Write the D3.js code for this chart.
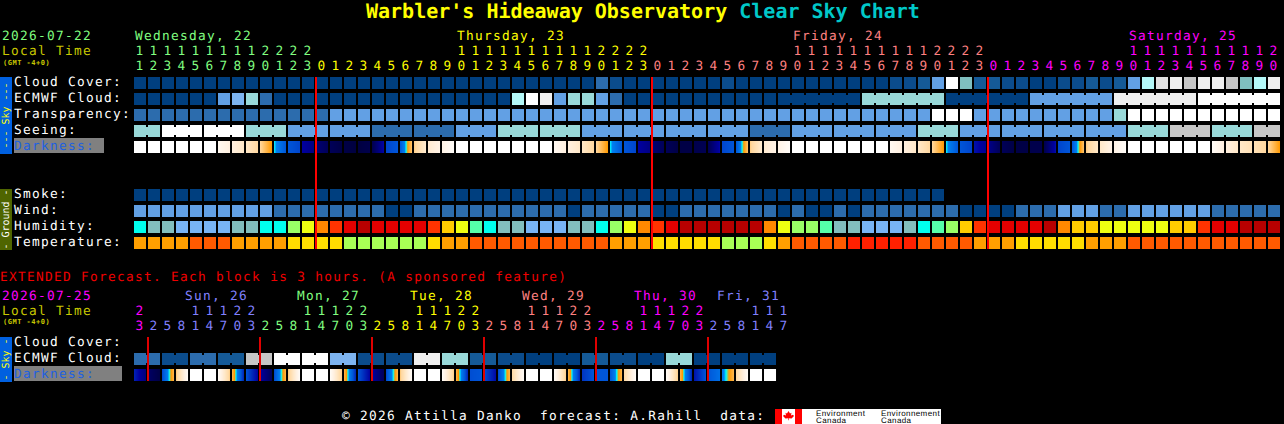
<!DOCTYPE html>
<html><head><meta charset="utf-8">
<script src="https://cdn.jsdelivr.net/npm/d3@7"></script>
<style>
html,body{margin:0;padding:0;background:#000;overflow:hidden}
svg{display:block}
text{font-family:"DejaVu Sans Mono",monospace;font-size:12.8px;letter-spacing:1.3px;white-space:pre;text-rendering:geometricPrecision}
</style></head><body>
<div id="chart"></div>
<script>
// ---------- data ----------
const hourLabels = [11,12,13,14,15,16,17,18,19,20,21,22,23,0,1,2,3,4,5,6,7,8,9,10,11,12,13,14,15,16,17,18,19,20,21,22,23,0,1,2,3,4,5,6,7,8,9,10,11,12,13,14,15,16,17,18,19,20,21,22,23,0,1,2,3,4,5,6,7,8,9,10,11,12,13,14,15,16,17,18,19,20];
const dayHeads = [["Wednesday, 22",0,"#80ff80"],["Thursday, 23",23,"#ffff00"],["Friday, 24",47,"#ff8080"],["Saturday, 25",71,"#ff00ff"]];
const dayColors = ["#80ff80","#ffff00","#ff8080","#ff00ff"];
const dayStarts = [0,13,37,61,82];

const extHours = [23,2,5,8,11,14,17,20,23,2,5,8,11,14,17,20,23,2,5,8,11,14,17,20,23,2,5,8,11,14,17,20,23,2,5,8,11,14,17,20,23,2,5,8,11,14,17];
const extHeads = [["Sun, 26",185,"#8080ff"],["Mon, 27",297,"#80ff80"],["Tue, 28",410,"#ffff00"],["Wed, 29",522,"#ff8080"],["Thu, 30",634,"#ff00ff"],["Fri, 31",717,"#8080ff"]];
const extColors = ["#ff00ff","#8080ff","#80ff80","#ffff00","#ff8080","#ff00ff","#8080ff"];
const extStarts = [0,1,9,17,25,33,41,47];

const skyLevels = ["a","b","c","d","e","f","g","h","i","j","k","l","m"];
const skyColors = ["#003f7f","#0b4c8c","#155a97","#2c6cad","#62a0e4","#7db4f0","#7fbfbf","#99d9d9","#b4f8f8","#c6c6c6","#e0e0e0","#efefef","#ffffff"];

const cloudCover = ("aaaaaaaaaa"+"aaaaaaaaaa"+"aaaaaaaaaa"+"aaadbaaaaa"+"aabaaaaaaa"+"aaaabbcemg"+"ccbbaabbcb"+"ceikljlljg"+"il").split("");
const ecmwf = ("aaaaaaefhd"+"aaaaaaaaaa"+"aaaaaaaiml"+"ehhedaaaaa"+"aaaaaaaaaa"+"aahhhhhhaa"+"aaaaeeeeee"+"llllllmmmm"+"mm").split("");
const ecmwfBridgeStart = 46, ecmwfSpan = 6;
const transparency = ("dddddddddd"+"ddddeeeeee"+"eeeeeeeeee"+"eeeeeeeeee"+"eeeeeeeeee"+"eeeeeeemmm"+"eeeeeeeeee"+"hmmmmmmmmm"+"mm").split("");
const seeingSpans = [2,3,3,3,3,3,3,3,3,3,3,3,3,3,3,3,3,3,3,3,3,3,3,3,3,3,3,2];
const seeingValues = ["h","m","m","h","e","e","d","d","e","h","h","e","e","e","e","d","e","e","e","h","e","e","e","e","h","j","h","j"];
const smoke = ("aaaaaaaaaa"+"aaaaaaaaaa"+"aaaaaaaaaa"+"aaaaaaaaaa"+"aaaaaaaaaa"+"aaaaaaaa").split("");
const wind = ("eeeeeeeeee"+"ddddddddaa"+"dddddddddd"+"dadddddaad"+"ddddddadaa"+"daddddddda"+"aaadddeeed"+"deeeeeeddd"+"dd").split("");

const humidColors = ["#78b4f5","#82bebe","#00ffee","#55ffaa","#99ff66","#eeff11","#ffcc00","#ff8800","#ff3300","#e40000","#b80000"];
const humidity = [2,1,1,0,0,0,0,1,1,2,2,4,5,7,8,9,10,9,9,9,9,8,6,5,3,2,1,1,0,0,0,1,1,2,4,5,7,8,9,10,10,10,10,10,10,7,5,4,4,3,1,1,0,0,0,1,2,3,4,6,8,9,9,9,9,10,7,6,6,5,5,5,5,5,6,6,8,9,9,10,10,10];
const tempColors = ["#a8ff55","#ffdd00","#ff9f00","#ff5a00","#ff2000"];
const temperature = [2,2,2,2,3,3,3,2,2,2,2,1,1,1,1,0,0,0,0,0,0,1,2,2,3,3,3,3,3,3,3,3,3,3,2,2,2,1,1,1,1,1,0,0,0,1,2,3,3,3,3,4,4,4,4,4,3,3,3,3,2,2,2,1,1,1,1,1,2,2,2,3,3,3,3,3,3,3,3,3,3,3];

// darkness: value at left and right edge of each block
const darkLeft  = [0,0,0,0,0,0,.6,1.2,1.8,2.7,4,5,6,6.6,7,7.3,7.4,7.2,5.2,5,2.9,1.6,1,0,0,0,0,0,0,0,.6,1.2,1.8,2.7,4,5,6,6.6,7,7.3,7.2,7.1,5.2,5,2.9,1.6,1,0,0,0,0,0,0,0,.6,1.2,1.8,2.7,4,5,5.8,6.3,7,7.3,7.2,7.2,5.2,5,2.9,1.8,1,0,0,0,0,0,0,.4,1.2,1.8,2.2,2.7];
const darkRight = [0,0,0,0,0,0,1.2,1.8,2.7,3.7,5,5.2,6.4,7,7.3,7.4,7.2,5.9,5,3,1.6,1,.3,0,0,0,0,0,0,0,1.2,1.8,2.7,3.7,5,5.2,6.4,7,7.3,7.3,7.1,5.9,5,3,1.6,1,.3,0,0,0,0,0,0,0,1.2,1.8,2.7,3.7,5,5.2,6.2,7,7.3,7.3,7.2,5.8,5,3,1.8,1,.3,0,0,0,0,0,0,1.2,1.8,2.2,2.7,3.7];
const extEcmwfPairs = ["d","b","d","c","j","m","m","f","b","b","l","h","c","b","a","a","c","b","a","h","a","a","a"];
const extDarkLeft  = [5.6,6.8,5.2,3,0,0,.4,3.2,5,6,5.2,3,0,0,.4,3.2,5,6,5.2,3,0,0,.4,3.2,5.1,5.1,5.2,2.6,0,0,.4,3.2,5.4,5,5,2.6,0,0,.4,3.2,5.8,5,4.4,2.6,0,0];
const extDarkRight = [6.5,7.3,3.2,.4,0,0,2.9,5.6,6,7,3.2,.4,0,0,2.9,5.6,6,7,3.2,.4,0,0,2.9,5.6,5,5.9,3.2,.4,0,0,2.9,5.6,5,5,3.2,.4,0,0,2.9,5.6,5,4.5,3.2,.4,0,0];

// ---------- scales ----------
const PITCH = 14, CELL = 12, LEFT = 134;
const x = d3.scaleLinear().domain([0,82]).range([LEFT, LEFT + 82*PITCH]);
const yMain = d3.scaleOrdinal(["cloud","ecmwf","transparency","seeing","darkness","smoke","wind","humidity","temperature"],[77,93,109,125,141,189,205,221,237]);
const yExt = d3.scaleOrdinal(["ecmwf","darkness"],[353,369]);
const sky = d3.scaleOrdinal(skyLevels, skyColors);
const humid = d3.scaleOrdinal(d3.range(humidColors.length), humidColors);
const temp = d3.scaleOrdinal(d3.range(tempColors.length), tempColors);
const darkColor = d3.scaleLinear()
  .domain([0,.5,1.2,1.8,2.7,3.7,4,4.2,5,6,7,7.4])
  .range(["#ffffff","#fffaf4","#fff0e0","#ffe8c8","#ffd8a0","#ff9900","#00ffff","#0080f0","#0056d8","#0000a0","#000058","#000040"])
  .interpolate(d3.interpolateRgb).clamp(true);

const svg = d3.select("#chart").append("svg").attr("width",1284).attr("height",424);
svg.append("rect").attr("width",1284).attr("height",424).attr("fill","#000");

// ---------- helpers ----------
function txt(s,px,py,fill,opts={}){
  const t = svg.append("text").attr("x",px).attr("y",py).attr("fill",fill).text(s);
  if(opts.size) t.style("font-size",opts.size+"px");
  if(opts.weight) t.style("font-weight",opts.weight);
  if(opts.family) t.style("font-family",opts.family);
  if(opts.spacing!==undefined) t.style("letter-spacing",opts.spacing+"px");
  return t;
}
function cells(name,vals,y,color){
  svg.append("g").attr("class",name).selectAll("rect").data(vals).join("rect")
    .attr("x",(d,i)=>x(i)).attr("y",y).attr("width",CELL).attr("height",CELL)
    .attr("fill",d=>color(d));
}
function bridges(cols,y,color){
  svg.append("g").selectAll("rect").data(cols).join("rect")
    .attr("x",d=>x(d.col)+CELL).attr("y",y+2).attr("width",PITCH-CELL).attr("height",CELL-4)
    .attr("fill",d=>color(d.v));
}
function darkness(name,left,right,y){
  const g = svg.append("g").attr("class",name);
  left.forEach((l,i)=>{
    g.selectAll(null).data(d3.range(CELL)).join("rect")
      .attr("x",p=>x(i)+p).attr("y",y).attr("width",1.02).attr("height",CELL)
      .attr("fill",p=>darkColor(l+(right[i]-l)*(p+.5)/CELL));
  });
}

// ---------- title ----------
const title = svg.append("text").attr("x",366).attr("y",18).style("font-size","20px").style("font-weight","bold").style("letter-spacing","0");
title.append("tspan").attr("fill","#ffff00").text("Warbler's Hideaway Observatory ");
title.append("tspan").attr("fill","#00c8c8").text("Clear Sky Chart");

// ---------- main headers ----------
txt("2026-07-22",2,40,"#80ff80");
txt("Local Time",2,55,"#c8c800");
txt("(GMT -4+0)",3,65,"#c8c800",{size:7,weight:"bold",spacing:.5});
dayHeads.forEach(d=>txt(d[0],x(d[1])+1,40,d[2]));
hourLabels.forEach((h,i)=>{
  const c = dayColors[d3.bisectRight(dayStarts,i)-1];
  if(h>=10) txt(String(Math.floor(h/10)),x(i)+1.5,55,c);
  txt(String(h%10),x(i)+1.5,70,c);
});

// ---------- side bars ----------
function sideBar(y0,y1,bg,label,fg){
  svg.append("rect").attr("x",0).attr("y",y0).attr("width",12).attr("height",y1-y0).attr("fill",bg);
  svg.append("text").attr("transform",`translate(9,${(y0+y1)/2}) rotate(-90)`)
    .attr("text-anchor","middle").attr("fill",fg).style("font-size","10px").style("letter-spacing","0").text(label);
}
sideBar(77,154,"#0060e0","--- Sky ---","#ffff00");
sideBar(189,250,"#4f6500"," - Ground - ","#ffffff");
sideBar(337,382,"#0060e0","- Sky -","#ffff00");

// ---------- row labels ----------
[["Cloud Cover:",86],["ECMWF Cloud:",102],["Transparency:",118],["Seeing:",134]].forEach(d=>txt(d[0],14,d[1],"#fff"));
svg.append("rect").attr("x",14).attr("y",138).attr("width",90).attr("height",15).attr("fill","#808080");
txt("Darkness:",14,150,"#2060e0");
[["Smoke:",198],["Wind:",214],["Humidity:",230],["Temperature:",246]].forEach(d=>txt(d[0],14,d[1],"#fff"));

// ---------- main rows ----------
cells("cloud",cloudCover,yMain("cloud"),sky);
cells("ecmwf",ecmwf,yMain("ecmwf"),sky);
bridges(d3.range(ecmwfBridgeStart,81).filter(c=>(c-ecmwfBridgeStart)%ecmwfSpan!==ecmwfSpan-1).map(c=>({col:c,v:ecmwf[c]})),yMain("ecmwf"),sky);
cells("transparency",transparency,yMain("transparency"),sky);
const seeingCols = seeingValues.flatMap((v,k)=>d3.range(seeingSpans[k]).map(()=>v));
cells("seeing",seeingCols,yMain("seeing"),sky);
let pos = 0; const sb = [];
seeingValues.forEach((v,k)=>{ d3.range(seeingSpans[k]-1).forEach(j=>sb.push({col:pos+j,v})); pos += seeingSpans[k]; });
bridges(sb,yMain("seeing"),sky);
darkness("darkness",darkLeft,darkRight,yMain("darkness"));
cells("smoke",smoke,yMain("smoke"),sky);
cells("wind",wind,yMain("wind"),sky);
cells("humidity",humidity,yMain("humidity"),humid);
cells("temperature",temperature,yMain("temperature"),temp);

// midnight lines
svg.append("g").selectAll("rect").data([13,37,61]).join("rect")
  .attr("x",d=>x(d)-1).attr("y",77).attr("width",2).attr("height",172).attr("fill","#ff0000");

// ---------- extended ----------
txt("EXTENDED Forecast. Each block is 3 hours. (A sponsored feature)",0,281,"#f00000");
txt("2026-07-25",2,300,"#ff00ff");
txt("Local Time",2,315,"#c8c800");
txt("(GMT -4+0)",3,324,"#c8c800",{size:7,weight:"bold",spacing:.5});
extHeads.forEach(d=>txt(d[0],d[1],300,d[2]));
extHours.forEach((h,i)=>{
  const c = extColors[d3.bisectRight(extStarts,i)-1];
  if(h>=10) txt(String(Math.floor(h/10)),x(i)+1.5,315,c);
  txt(String(h%10),x(i)+1.5,330,c);
});
txt("Cloud Cover:",14,346,"#fff");
txt("ECMWF Cloud:",14,362,"#fff");
svg.append("rect").attr("x",14).attr("y",366).attr("width",108).attr("height",15).attr("fill","#808080");
txt("Darkness:",14,378,"#2060e0");
const extCols = extEcmwfPairs.flatMap(v=>[v,v]);
cells("extEcmwf",extCols,yExt("ecmwf"),sky);
bridges(extEcmwfPairs.map((v,k)=>({col:k*2,v})),yExt("ecmwf"),sky);
darkness("extDarkness",extDarkLeft,extDarkRight,yExt("darkness"));
svg.append("g").selectAll("rect").data([1,9,17,25,33,41]).join("rect")
  .attr("x",d=>x(d)-1).attr("y",337).attr("width",2).attr("height",44).attr("fill","#e00000");

// ---------- footer ----------
txt("© 2026 Attilla Danko  forecast: A.Rahill  data:",342,420,"#fff");
svg.append("rect").attr("x",775).attr("y",409).attr("width",166).attr("height",15).attr("fill","#fff");
svg.append("rect").attr("x",775).attr("y",409).attr("width",7).attr("height",15).attr("fill","#ff0000");
svg.append("rect").attr("x",795).attr("y",409).attr("width",7).attr("height",15).attr("fill","#ff0000");
svg.append("path").attr("d","M788.5 411l1.5 2.5 1.5-.7-.5 2.7 2-.8 1 1.3-2.5 2.5-2.7-.2v2h-.6v-2l-2.7.2-2.5-2.5 1-1.3 2 .8-.5-2.7 1.5.7z").attr("fill","#ff0000");
const sans = '"Liberation Sans",sans-serif';
[["Environment",816,416],["Canada",816,423],["Environnement",881,416],["Canada",881,423]].forEach(d=>{
  txt(d[0],d[1],d[2],"#000",{size:8,family:sans,spacing:.4});
});
</script>
</body></html>
